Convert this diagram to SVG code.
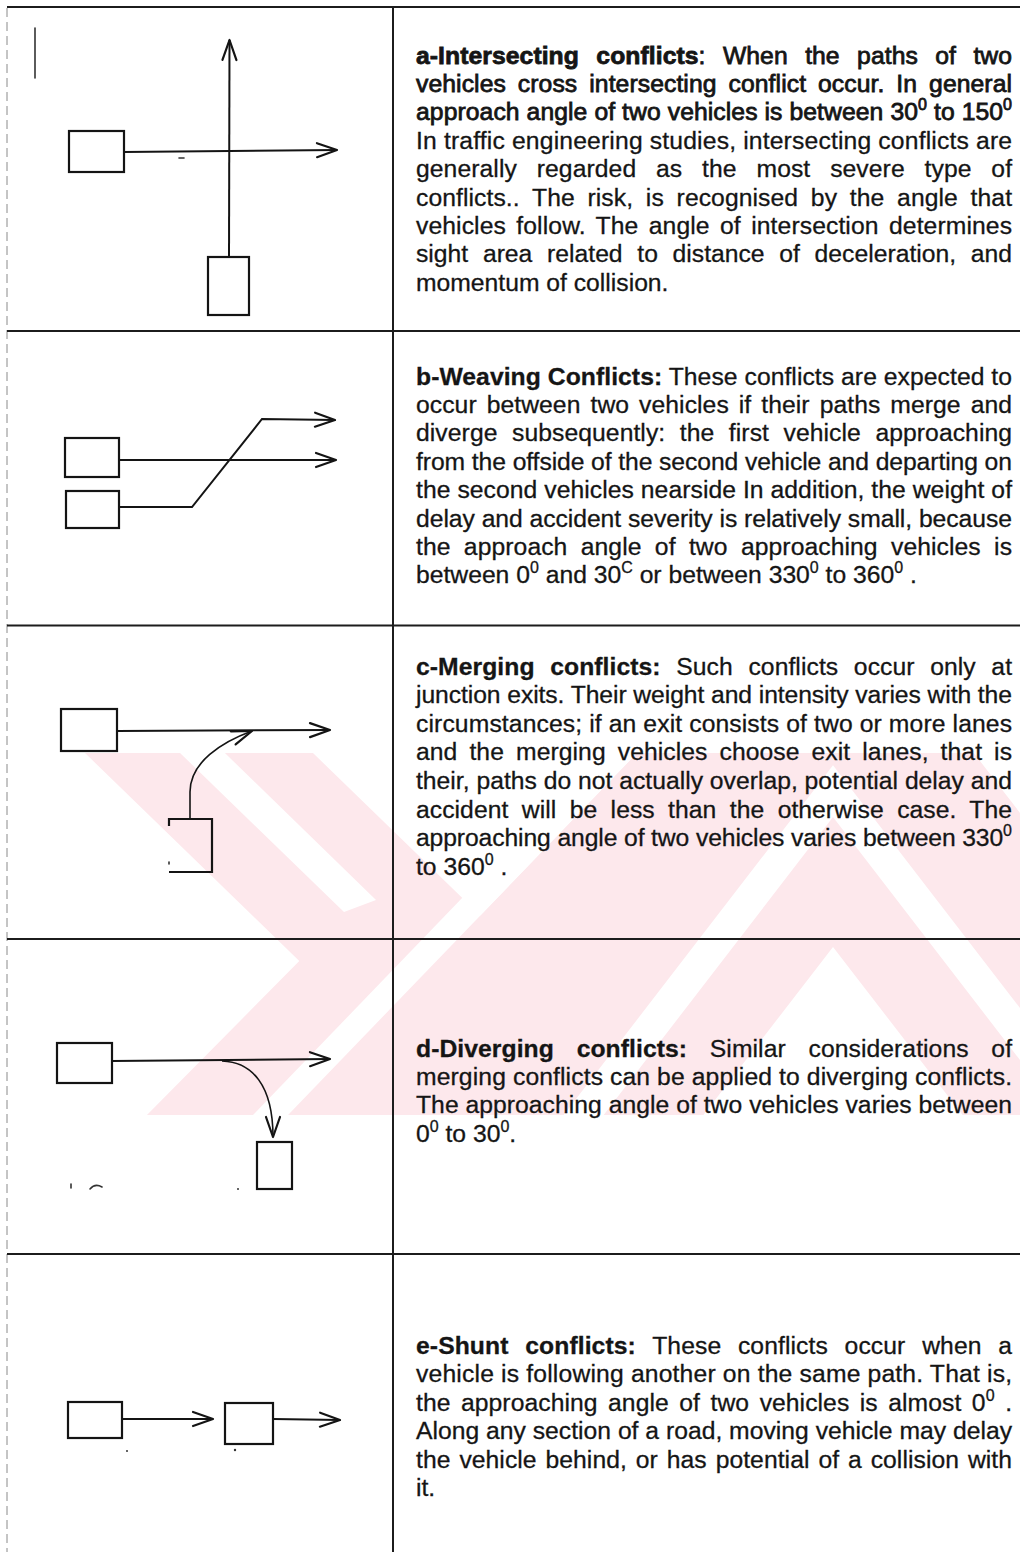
<svg xmlns="http://www.w3.org/2000/svg" width="1020" height="1552" viewBox="0 0 1020 1552">
<defs>
<style>
 .t{font-family:"Liberation Sans",Arial,Helvetica,sans-serif;font-size:24.7px;fill:#151515;stroke:#151515;stroke-width:0.3}
 .b{font-weight:bold}
 .heavy{stroke-width:0.8}
 .sup{font-size:16px}
 .grid{stroke:#1c1c1c;stroke-width:2;fill:none}
 .edge{stroke:#8a8a8a;stroke-width:1;stroke-dasharray:9 5;fill:none}
 .veh{fill:none;stroke:#141414;stroke-width:2.2}
 .path{fill:none;stroke:#141414;stroke-width:2}
 .thin{fill:none;stroke:#141414;stroke-width:1.6}
 .arr{marker-end:url(#arrow)}
 .mark{stroke:#333;stroke-width:1.6;fill:none;stroke-linecap:round}
 .wm{fill:#fde8ec}
 .wm-gap{fill:#fff}
</style>
<marker id="arrow" viewBox="-24 -10 26 20" refX="0" refY="0" markerWidth="26" markerHeight="20" markerUnits="userSpaceOnUse" orient="auto">
 <path d="M-20,-7 L0,0 L-20,7" fill="none" stroke="#141414" stroke-width="2.2" stroke-linecap="round" stroke-linejoin="round"/>
</marker>
<clipPath id="wm-band"><rect x="0" y="753" width="1020" height="362"/></clipPath>
</defs>
<rect width="1020" height="1552" fill="#fff"/>

<!-- pale striped emblem behind rows c and d -->
<g id="watermark" clip-path="url(#wm-band)">
 <path class="wm" d="M30.4,700 L258.4,700 L527.3,961.1 L320.5,1170 L92.5,1170 L299.3,961.1 Z"/>
 <path class="wm" d="M688,700 L933,700 L1295,1170 L1005,1170 L833,947 L661,1170 L235,1170 Z"/>
 <path class="wm-gap" d="M125.4,700 L170.4,700 L376,900 L344,912 Z"/>
 <path class="wm-gap" d="M653,700 L688,700 L235,1170 L200,1170 Z"/>
 <path class="wm-gap" d="M833,765.2 L1144.7,1170 L1104.7,1170 L833,817.1 L561.3,1170 L521.3,1170 Z"/>
</g>

<!-- table rules -->
<g id="table">
 <line class="edge" x1="7" y1="8" x2="7" y2="1552"/>
 <line class="grid" x1="7" y1="7" x2="1020" y2="7"/>
 <line class="grid" x1="7" y1="331" x2="1020" y2="331"/>
 <line class="grid" x1="7" y1="625.5" x2="1020" y2="625.5"/>
 <line class="grid" x1="7" y1="939" x2="1020" y2="939"/>
 <line class="grid" x1="7" y1="1254" x2="1020" y2="1254"/>
 <line class="grid" x1="393" y1="7" x2="393" y2="1552"/>
 <line class="mark" x1="35" y1="28" x2="35" y2="78"/>
</g>

<!-- vehicles -->
<g id="a-vehicle-1"><rect class="veh" x="69" y="131" width="55" height="41"/></g>
<g id="a-vehicle-2"><rect class="veh" x="208" y="257" width="41" height="58"/></g>
<g id="b-vehicle-1"><rect class="veh" x="65" y="438" width="54" height="39"/></g>
<g id="b-vehicle-2"><rect class="veh" x="66" y="491" width="53" height="37"/></g>
<g id="c-vehicle-1"><rect class="veh" x="61" y="709" width="56" height="42"/></g>
<g id="c-vehicle-2"><path class="veh" d="M169,826 L169,819 L212,819 L212,872 L169,872"/><line class="mark" x1="169" y1="862" x2="169" y2="864"/></g>
<g id="d-vehicle-1"><rect class="veh" x="57" y="1043" width="55" height="40"/></g>
<g id="d-vehicle-2"><rect class="veh" x="257" y="1142" width="35" height="47"/></g>
<g id="e-vehicle-1"><rect class="veh" x="68" y="1402" width="54" height="36"/></g>
<g id="e-vehicle-2"><rect class="veh" x="225" y="1403" width="48" height="41"/></g>

<!-- vehicle paths -->
<g id="connectors">
 <path class="path arr" d="M124,152 L337,150"/>
 <path class="path arr" d="M229,257 L229.5,40"/>
 <path class="path arr" d="M119,460 L336,460"/>
 <path class="path arr" d="M119,507 L192,507 L262,419 L335,420"/>
 <path class="path arr" d="M117,731 L330,730"/>
 <path class="thin arr" d="M190,818 L190,792 C190,762 222,742 252,731"/>
 <path class="path arr" d="M112,1061 L330,1059"/>
 <path class="thin arr" d="M222,1061 C252,1062 273,1085 273,1137"/>
 <path class="path arr" d="M122,1419 L213,1419"/>
 <path class="path arr" d="M273,1419 L340,1420"/>
</g>

<!-- stray pen marks -->
<g id="marks">
 <line class="mark" x1="179" y1="158" x2="184" y2="158"/>
 <line class="mark" x1="71" y1="1184" x2="71" y2="1188"/>
 <path class="mark" d="M90,1189 Q95,1183 102,1187"/>
 <circle cx="238" cy="1189" r="1" fill="#333"/>
 <circle cx="127" cy="1451" r="1" fill="#333"/>
 <circle cx="235" cy="1450" r="1.2" fill="#333"/>
</g>

<!-- descriptions -->
<g id="text-a" class="t">
 <text class="heavy" x="416" y="63.5" textLength="596" lengthAdjust="spacing" word-spacing="10.5"><tspan class="b">a-Intersecting conflicts</tspan>: When the paths of two</text>
 <text class="heavy" x="416" y="91.9" textLength="596" lengthAdjust="spacing" word-spacing="5">vehicles cross intersecting conflict occur. In general</text>
 <text class="heavy" x="416" y="120.3" textLength="596" lengthAdjust="spacing">approach angle of two vehicles is between 30<tspan class="sup" dy="-10">0</tspan><tspan dy="10"> to 150</tspan><tspan class="sup" dy="-10">0</tspan></text>
 <text x="416" y="148.7" textLength="596" lengthAdjust="spacing">In traffic engineering studies, intersecting conflicts are</text>
 <text x="416" y="177.1" textLength="596" lengthAdjust="spacing" word-spacing="12.9">generally regarded as the most severe type of</text>
 <text x="416" y="205.5" textLength="596" lengthAdjust="spacing" word-spacing="5.8">conflicts.. The risk, is recognised by the angle that</text>
 <text x="416" y="233.9" textLength="596" lengthAdjust="spacing" word-spacing="3.4">vehicles follow. The angle of intersection determines</text>
 <text x="416" y="262.3" textLength="596" lengthAdjust="spacing" word-spacing="7.8">sight area related to distance of deceleration, and</text>
 <text x="416" y="290.7">momentum of collision.</text>
</g>

<g id="text-b" class="t">
 <text x="416" y="384.5" textLength="596" lengthAdjust="spacing"><tspan class="b">b-Weaving Conflicts:</tspan> These conflicts are expected to</text>
 <text x="416" y="412.9" textLength="596" lengthAdjust="spacing" word-spacing="3.1">occur between two vehicles if their paths merge and</text>
 <text x="416" y="441.3" textLength="596" lengthAdjust="spacing" word-spacing="7.6">diverge subsequently: the first vehicle approaching</text>
 <text x="416" y="469.7" textLength="596" lengthAdjust="spacing">from the offside of the second vehicle and departing on</text>
 <text x="416" y="498.1" textLength="596" lengthAdjust="spacing">the second vehicles nearside In addition, the weight of</text>
 <text x="416" y="526.5" textLength="596" lengthAdjust="spacing">delay and accident severity is relatively small, because</text>
 <text x="416" y="554.9" textLength="596" lengthAdjust="spacing" word-spacing="6.4">the approach angle of two approaching vehicles is</text>
 <text x="416" y="583.3">between 0<tspan class="sup" dy="-10">0</tspan><tspan dy="10"> and 30</tspan><tspan class="sup" dy="-10">C</tspan><tspan dy="10"> or between 330</tspan><tspan class="sup" dy="-10">0</tspan><tspan dy="10"> to 360</tspan><tspan class="sup" dy="-10">0</tspan><tspan dy="10"> .</tspan></text>
</g>

<g id="text-c" class="t">
 <text x="416" y="674.5" textLength="596" lengthAdjust="spacing" word-spacing="8.7"><tspan class="b">c-Merging conflicts:</tspan> Such conflicts occur only at</text>
 <text x="416" y="703.1" textLength="596" lengthAdjust="spacing">junction exits. Their weight and intensity varies with the</text>
 <text x="416" y="731.7" textLength="596" lengthAdjust="spacing">circumstances; if an exit consists of two or more lanes</text>
 <text x="416" y="760.3" textLength="596" lengthAdjust="spacing" word-spacing="5.1">and the merging vehicles choose exit lanes, that is</text>
 <text x="416" y="788.9" textLength="596" lengthAdjust="spacing">their, paths do not actually overlap, potential delay and</text>
 <text x="416" y="817.5" textLength="596" lengthAdjust="spacing" word-spacing="6.5">accident will be less than the otherwise case. The</text>
 <text x="416" y="846.1" textLength="596" lengthAdjust="spacing">approaching angle of two vehicles varies between 330<tspan class="sup" dy="-10">0</tspan></text>
 <text x="416" y="874.7">to 360<tspan class="sup" dy="-10">0</tspan><tspan dy="10"> .</tspan></text>
</g>

<g id="text-d" class="t">
 <text x="416" y="1056.5" textLength="596" lengthAdjust="spacing" word-spacing="15.8"><tspan class="b">d-Diverging conflicts:</tspan> Similar considerations of</text>
 <text x="416" y="1084.9" textLength="596" lengthAdjust="spacing">merging conflicts can be applied to diverging conflicts.</text>
 <text x="416" y="1113.3" textLength="596" lengthAdjust="spacing">The approaching angle of two vehicles varies between</text>
 <text x="416" y="1141.7">0<tspan class="sup" dy="-10">0</tspan><tspan dy="10"> to 30</tspan><tspan class="sup" dy="-10">0</tspan><tspan dy="10">.</tspan></text>
</g>

<g id="text-e" class="t">
 <text x="416" y="1354" textLength="596" lengthAdjust="spacing" word-spacing="9.8"><tspan class="b">e-Shunt conflicts:</tspan> These conflicts occur when a</text>
 <text x="416" y="1382.4" textLength="596" lengthAdjust="spacing">vehicle is following another on the same path. That is,</text>
 <text x="416" y="1410.8" textLength="596" lengthAdjust="spacing" word-spacing="3.6">the approaching angle of two vehicles is almost 0<tspan class="sup" dy="-10">0</tspan><tspan dy="10"> .</tspan></text>
 <text x="416" y="1439.2" textLength="596" lengthAdjust="spacing">Along any section of a road, moving vehicle may delay</text>
 <text x="416" y="1467.6" textLength="596" lengthAdjust="spacing" word-spacing="2">the vehicle behind, or has potential of a collision with</text>
 <text x="416" y="1496">it.</text>
</g>
</svg>
